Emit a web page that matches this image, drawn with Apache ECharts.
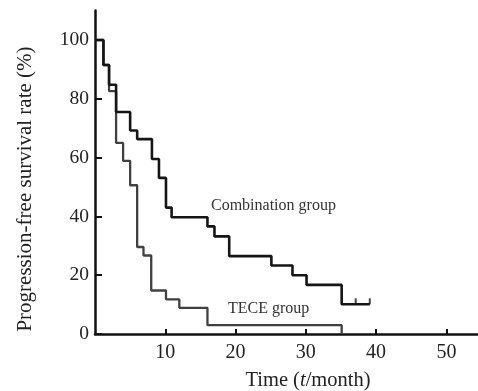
<!DOCTYPE html>
<html>
<head>
<meta charset="utf-8">
<script src="https://cdn.jsdelivr.net/npm/echarts@6/dist/echarts.min.js"></script>
<style>
html,body{margin:0;padding:0;background:#fff;}
#chart{width:478px;height:391px;}
</style>
</head>
<body>
<div id="chart"></div>
<script>
// Data
const comboTimes = [0, 1.2, 2.0, 3.0, 5.0, 6.0, 8.1, 9.1, 10.1, 10.9, 16.0, 17.0, 19.1, 25.1, 28.1, 30.1, 35.1, 39.1];
const comboRates = [100, 91.5, 84.8, 75.5, 69.2, 66.3, 59.5, 53.1, 43.0, 39.7, 36.6, 33.2, 26.5, 23.3, 20.0, 16.7, 10.1, 10.1];
const teceTimes = [0, 1.2, 2.0, 3.0, 4.0, 5.0, 6.0, 6.9, 8.0, 10.1, 12.0, 16.0, 35.1];
const teceRates = [100, 91.5, 82.6, 65.0, 58.9, 50.6, 29.6, 26.7, 14.8, 11.8, 8.9, 3.0, 0];
const censorTimes = [37.1, 39.1];
const censorRates = [10.1, 10.1];
const xTicks = [10, 20, 30, 40, 50];
const yTicks = [0, 20, 40, 60, 80, 100];
const seriesNames = ['Combination group', 'TECE group'];

const FONT = '"Liberation Serif", "Times New Roman", serif';
const chart = echarts.init(document.getElementById('chart'), null, {renderer: 'canvas'});

const pair = (ts, vs) => ts.map((t, i) => [t, vs[i]]);

chart.setOption({
  animation: false,
  backgroundColor: '#ffffff',
  grid: {left: 95, right: 0, top: 10.6, bottom: 57},
  xAxis: {
    type: 'value', min: 0, max: 54.5,
    axisLine: {show: true, lineStyle: {color: '#111', width: 2.5}},
    axisTick: {show: true, inside: true, length: 5, customValues: xTicks, lineStyle: {color: '#111', width: 2}},
    axisLabel: {customValues: xTicks, fontFamily: FONT, fontSize: 20, color: '#222', margin: 9},
    splitLine: {show: false}
  },
  yAxis: {
    type: 'value', min: 0, max: 110,
    axisLine: {show: true, lineStyle: {color: '#111', width: 2.5}},
    axisTick: {show: true, inside: true, length: 7, customValues: yTicks, lineStyle: {color: '#111', width: 2}},
    axisLabel: {customValues: yTicks, fontFamily: FONT, fontSize: 19.5, color: '#222', margin: 6},
    splitLine: {show: false}
  },
  series: [
    {
      name: seriesNames[1], type: 'line', step: 'end', symbol: 'none',
      data: pair(teceTimes, teceRates),
      lineStyle: {color: '#404040', width: 2.3}, z: 2
    },
    {
      name: seriesNames[0], type: 'line', step: 'end', symbol: 'none',
      data: pair(comboTimes, comboRates),
      lineStyle: {color: '#151515', width: 2.6}, z: 3
    },
    {
      type: 'scatter', symbol: 'rect', symbolSize: [2, 6], symbolOffset: [0, -3],
      data: pair(censorTimes, censorRates),
      itemStyle: {color: '#151515'}, z: 4
    }
  ],
  graphic: [
    {
      type: 'text', x: 25, y: 189, rotation: Math.PI / 2,
      style: {text: 'Progression-free survival rate (%)', font: '21px ' + FONT, fill: '#222', align: 'center', verticalAlign: 'middle'}
    },
    {
      type: 'text', x: 308, y: 381,
      style: {
        text: '{n|Time (}{i|t}{n|/month)}', align: 'center', verticalAlign: 'middle',
        rich: {
          n: {fontFamily: FONT, fontSize: 20.5, fill: '#222'},
          i: {fontFamily: FONT, fontSize: 20.5, fontStyle: 'italic', fill: '#222'}
        }
      }
    },
    {
      type: 'text', x: 211, y: 206,
      style: {text: seriesNames[0], font: '16px ' + FONT, fill: '#333', align: 'left', verticalAlign: 'middle'}
    },
    {
      type: 'text', x: 228, y: 309,
      style: {text: seriesNames[1], font: '16px ' + FONT, fill: '#333', align: 'left', verticalAlign: 'middle'}
    }
  ]
});
</script>
</body>
</html>
